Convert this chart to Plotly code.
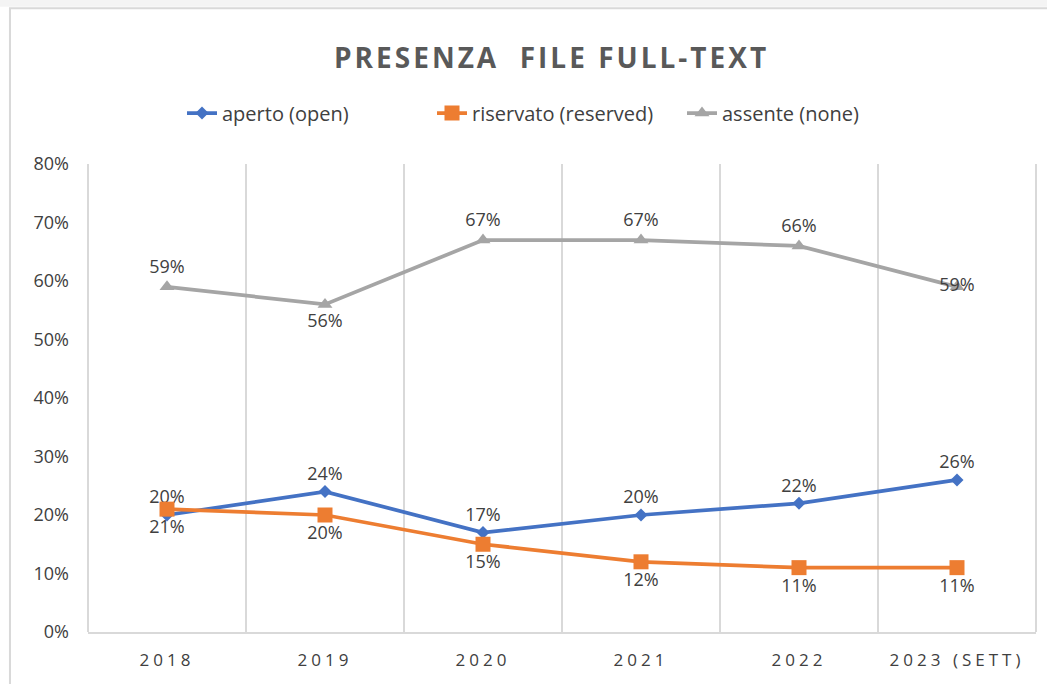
import plotly.graph_objects as go

categories = ["2018", "2019", "2020", "2021", "2022", "2023 (SETT)"]
aperto = [20, 24, 17, 20, 22, 26]
riservato = [21, 20, 15, 12, 11, 11]
assente = [59, 56, 67, 67, 66, 59]
y_ticks = [0, 10, 20, 30, 40, 50, 60, 70, 80]

FONT = "Open Sans"
TXT = "#404040"


def pct(vals):
    return [f"{v}%" for v in vals]


fig = go.Figure()
fig.add_trace(go.Scatter(
    x=categories, y=aperto, name="aperto (open)", mode="lines+markers+text",
    line=dict(color="#4472C4", width=3.75),
    marker=dict(symbol="diamond", size=10, color="#4472C4"),
    text=pct(aperto), textposition="top center",
    textfont=dict(family=FONT, size=18, color=TXT),
))
fig.add_trace(go.Scatter(
    x=categories, y=riservato, name="riservato (reserved)", mode="lines+markers+text",
    line=dict(color="#ED7D31", width=3.75),
    marker=dict(symbol="square", size=15, color="#ED7D31"),
    text=pct(riservato), textposition="bottom center",
    textfont=dict(family=FONT, size=18, color=TXT),
))
fig.add_trace(go.Scatter(
    x=categories, y=assente, name="assente (none)", mode="lines+markers+text",
    line=dict(color="#A5A5A5", width=3.75),
    marker=dict(symbol="triangle-up", size=13, color="#A5A5A5"),
    text=pct(assente),
    textposition=["top center", "bottom center", "top center", "top center", "top center", "middle center"],
    textfont=dict(family=FONT, size=18, color=TXT),
))

fig.update_layout(
    width=1047, height=684,
    margin=dict(l=88, r=11, t=164, b=52),
    paper_bgcolor="white", plot_bgcolor="white",
    font=dict(family=FONT, size=18, color=TXT),
    title=dict(
        text="<b>PRESENZA  FILE FULL-TEXT</b>",
        x=0.489, xref="paper", xanchor="center",
        y=1 - 58 / 684, yref="container", yanchor="middle",
        font=dict(family=FONT, size=28, color="#595959"),
    ),
    showlegend=True,
    legend=dict(
        orientation="h", x=(182 - 88) / 948, xanchor="left", y=(632 - 113) / 468, yanchor="middle",
        font=dict(family=FONT, size=20, color=TXT),
        entrywidth=205, itemwidth=30,
    ),
    xaxis=dict(
        type="category", tickson="boundaries",
        showgrid=True, gridcolor="#D9D9D9", gridwidth=2,
        showline=True, linecolor="#D9D9D9", linewidth=2,
        ticks="", ticklabelstandoff=12,
        tickfont=dict(family=FONT, size=17, color=TXT),
        range=[-0.5, 5.5], fixedrange=True,
    ),
    yaxis=dict(
        range=[0, 80], tickvals=y_ticks, ticktext=pct(y_ticks),
        showgrid=False, zeroline=False, showline=False, ticks="",
        ticklabelstandoff=18,
        tickfont=dict(family=FONT, size=18, color=TXT),
    ),
    shapes=[
        dict(type="rect", xref="paper", yref="paper",
             x0=-0.0823, x1=1.03, y0=-0.12, y1=1.333,
             line=dict(color="#D9D9D9", width=2), fillcolor="rgba(0,0,0,0)", layer="below"),
        dict(type="rect", xref="paper", yref="paper",
             x0=-0.2, x1=1.03, y0=1.336, y1=1.4,
             line=dict(width=0), fillcolor="#F4F4F4", layer="below"),
        dict(type="line", xref="paper", yref="paper", x0=0, x1=0, y0=0, y1=1,
             line=dict(color="#D9D9D9", width=2), layer="below"),
        dict(type="line", xref="paper", yref="paper", x0=1, x1=1, y0=0, y1=1,
             line=dict(color="#D9D9D9", width=2), layer="below"),
    ],
)

post = """
var s = document.createElement('style');
s.innerHTML = 'body{margin:0 !important;} .xtick text{letter-spacing:4px;} .gtitle{letter-spacing:3px;}';
document.head.appendChild(s);
"""
fig.write_html("out.html", post_script=post, config={"displayModeBar": False})
